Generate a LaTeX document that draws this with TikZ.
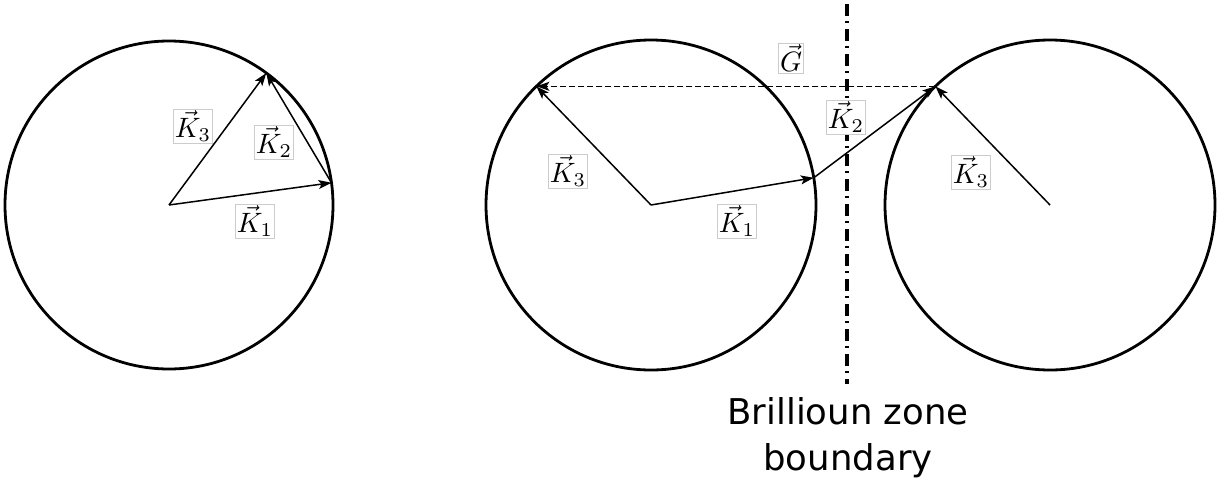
\documentclass[tikz,border=0pt]{standalone}
\usepackage{fontspec}
\newfontfamily\dejavu{DejaVu Sans}
\usetikzlibrary{arrows.meta,calc}
\tikzset{
  circ/.style={line width=2.8pt},
  vecline/.style={line width=1.5pt,-{Stealth[length=13pt,width=9pt,inset=3pt]}},
  gline/.style={line width=1.5pt,dash pattern=on 6pt off 3pt,-{Stealth[length=13pt,width=9pt,inset=3pt]}},
  bzline/.style={line width=4.5pt,dash pattern=on 12pt off 5pt on 2pt off 6pt},
  lab/.style={draw=black!20,line width=0.8pt,fill=white,inner sep=0.5pt,scale=2.8},
  bztext/.style={font=\dejavu\fontsize{35.5}{46}\selectfont,align=center,inner sep=0pt}
}
\begin{document}
\begin{tikzpicture}[x=1pt,y=-1pt]
\useasboundingbox (0,0) rectangle (1230,482);
% left circle
\coordinate (O1) at (169,205);
\draw[circ] (O1) circle[radius=164pt];
\coordinate (L1) at ($(O1)+(-7.8:164)$);
\coordinate (L3) at ($(O1)+(-53.6:164)$);
\draw[vecline] (O1) -- (L1);
\draw[vecline] (O1) -- (L3);
\draw[vecline] (L1) -- (L3);
\node[lab] (lk3) at (193,126) {$\vec{K}_3$};
\node[lab] (lk2) at (274,142) {$\vec{K}_2$};
\node[lab] (lk1) at (255,221) {$\vec{K}_1$};
% middle and right circles
\coordinate (O2) at (651,205);
\coordinate (O3) at (1050,205);
\draw[circ] (O2) circle[radius=165pt];
\draw[circ] (O3) circle[radius=165pt];
\coordinate (M1) at ($(O2)+(-9.5:165)$);
\coordinate (M3) at ($(O2)+(-134:165)$);
\coordinate (R3) at ($(O3)+(-134:165)$);
\coordinate (BT) at (847,4);
\coordinate (BB) at (847,384);
\draw[bzline] (BT) -- (BB);
\draw[vecline] (O2) -- (M1);
\draw[vecline] (O2) -- (M3);
\draw[vecline] (M1) -- (R3);
\draw[gline] (R3) -- (M3);
\draw[vecline] (O3) -- (R3);
\node[lab] (mk3) at (568,171) {$\vec{K}_3$};
\node[lab] (mk1) at (737,221) {$\vec{K}_1$};
\node[lab] (mg) at (791,58) {$\vec{G}$};
\node[lab] (mk2) at (846,117) {$\vec{K}_2$};
\node[lab] (rk3) at (971,172) {$\vec{K}_3$};
\node[bztext,anchor=north] (bz) at (848,397) {Brillioun zone\\boundary};
\end{tikzpicture}
\end{document}
